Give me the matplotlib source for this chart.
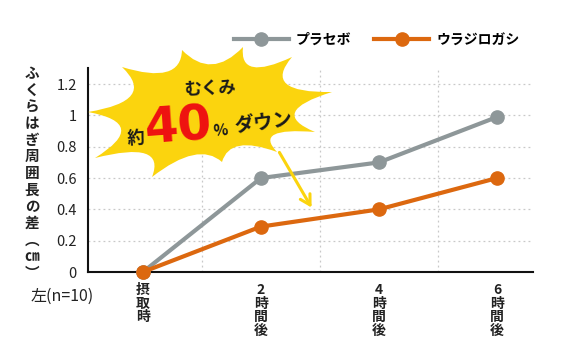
import matplotlib
matplotlib.use("Agg")
import matplotlib.pyplot as plt
from matplotlib.path import Path
from matplotlib.patches import PathPatch, FancyArrowPatch
import numpy as np

plt.rcParams['font.family'] = ['Noto Sans CJK JP', 'DejaVu Sans']

# data
hours = [0, 2, 4, 6]
tick_labels = ["摂\n取\n時", "2\n時\n間\n後", "4\n時\n間\n後", "6\n時\n間\n後"]
placebo = [0, 0.6, 0.7, 0.99]
urajirogashi = [0, 0.29, 0.4, 0.6]
y_ticks = [0, 0.2, 0.4, 0.6, 0.8, 1.0, 1.2]
y_tick_labels = ["0", "0.2", "0.4", "0.6", "0.8", "1", "1.2"]
series_names = ["プラセボ", "ウラジロガシ"]
y_label = "ふくらはぎ周囲長の差︵㎝︶"

GRAY = "#8e9799"
ORANGE = "#dc680f"
YELLOW = "#fbd40e"

W, H = 576, 362
fig = plt.figure(figsize=(W / 100, H / 100), dpi=100)
ax = fig.add_axes([88 / W, 1 - 272 / H, (533 - 88) / W, (272 - 68) / H])


def px(x, y):
    # pixel position (from top-left) to figure fraction
    return x / W, 1 - y / H


ax.plot(hours, placebo, color=GRAY, lw=3, marker="o", ms=9.5,
        label=series_names[0], clip_on=False, zorder=3)
ax.plot(hours, urajirogashi, color=ORANGE, lw=3, marker="o", ms=9.5,
        label=series_names[1], clip_on=False, zorder=4)

ax.set_xlim(-0.93, 6.61)
ax.set_ylim(0, 1.303)
ax.set_yticks(y_ticks)
ax.set_yticklabels(y_tick_labels, fontsize=10.5, color="#222222")
ax.set_xticks(hours)
ax.set_xticklabels(tick_labels, fontsize=10, fontweight="bold",
                   linespacing=0.95, va="top", color="#222222")
ax.tick_params(length=0)
ax.tick_params(axis="y", pad=8)
ax.tick_params(axis="x", pad=8)

# grid
ax.set_xticks(range(0, 7), minor=True)
ax.tick_params(which="minor", length=0)
ax.grid(True, which="minor", axis="x", ls=(0, (1.5, 2.5)), color="#c8c8c8", lw=0.9)
ax.grid(True, which="major", axis="y", ls=(0, (1.5, 2.5)), color="#c8c8c8", lw=0.9)
ax.set_axisbelow(True)

for s in ["top", "right"]:
    ax.spines[s].set_visible(False)
for s in ["left", "bottom"]:
    ax.spines[s].set_linewidth(1.5)
    ax.spines[s].set_color("#111111")

# y label (vertical stacked)
fig.text(*px(32, 173), "\n".join(y_label), fontsize=10.5, fontweight="bold",
         ha="center", va="center", linespacing=1.05, color="#222222")
fig.text(*px(62, 296), "左(n=10)", fontsize=11.5, ha="center", va="center",
         color="#222222")

# legend
fig.legend(loc="center left", bbox_to_anchor=px(221, 40), ncol=2, frameon=False,
           handlelength=4.0, handletextpad=0.5, columnspacing=1.6,
           prop={"weight": "bold", "size": 10})

# burst
spikes = [(88, 112), (122, 67), (182, 50), (243, 47), (292, 57), (332, 92),
          (315, 132), (277, 152), (222, 162), (152, 177), (95, 158)]
cx, cy = 210, 112
verts, codes = [px(*spikes[0])], [Path.MOVETO]
for i in range(len(spikes)):
    p1 = np.array(spikes[i], float)
    p2 = np.array(spikes[(i + 1) % len(spikes)], float)
    mid = (p1 + p2) / 2
    ctrl = mid + (np.array([cx, cy]) - mid) * 0.5
    verts += [px(*ctrl), px(*p2)]
    codes += [Path.CURVE3, Path.CURVE3]
burst = PathPatch(Path(verts, codes), facecolor=YELLOW, edgecolor="none",
                  transform=fig.transFigure, zorder=5)
fig.patches.append(burst)

arrow = FancyArrowPatch(px(278, 150), px(313, 210), transform=fig.transFigure,
                        arrowstyle="->,head_length=7,head_width=4",
                        color=YELLOW, lw=2.2, zorder=5)
fig.patches.append(arrow)

fig.text(*px(210, 88), "むくみ", fontsize=12.5, fontweight="bold",
         ha="center", va="center", rotation=3, color="#1a1a1a", zorder=6)
fig.text(*px(136, 138), "約", fontsize=12.5, fontweight="bold",
         ha="center", va="center", rotation=4, color="#1a1a1a", zorder=6)
fig.text(*px(179, 127), "40", fontsize=35, fontweight="bold",
         ha="center", va="center", rotation=4, color="#ee1111",
         family="DejaVu Sans", zorder=6)
fig.text(*px(221, 130), "%", fontsize=11, fontweight="bold",
         ha="center", va="center", rotation=4, color="#1a1a1a", zorder=6)
fig.text(*px(263, 123), "ダウン", fontsize=14, fontweight="bold",
         ha="center", va="center", rotation=7, color="#1a1a1a", zorder=6)

fig.savefig("out.png", dpi=100)
